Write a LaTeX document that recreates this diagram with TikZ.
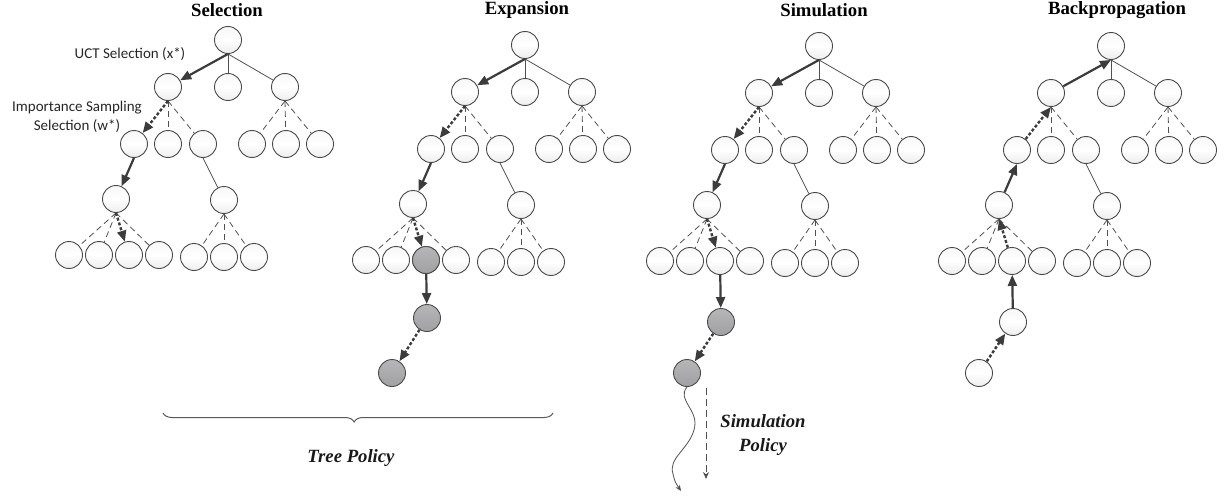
\documentclass[tikz,border=0pt]{standalone}
\usepackage{fontspec}
\setmainfont{Liberation Serif}
\newfontfamily\labfont{Carlito}
\usetikzlibrary{arrows.meta,decorations.pathreplacing,decorations.pathmorphing}
\definecolor{edgec}{HTML}{505050}
\definecolor{arrc}{HTML}{3C3C3C}
\definecolor{nodeb}{HTML}{4A4A4A}
\definecolor{grayfill}{HTML}{A9A9AB}
\tikzset{
  tnode/.style={circle, minimum size=27pt, inner sep=0pt, draw=nodeb, line width=0.9pt,
    top color=gray!6, bottom color=gray!14, middle color=white},
  gnode/.style={circle, minimum size=27pt, inner sep=0pt, draw=nodeb, line width=0.9pt,
    top color=grayfill!85!white, bottom color=grayfill!95!black},
  thinedge/.style={draw=edgec, line width=0.8pt},
  dashedge/.style={draw=edgec, line width=0.8pt, dash pattern=on 6pt off 4pt},
  thickarrow/.style={draw=arrc, line width=2.2pt, -{Triangle[length=11pt,width=9pt]}},
  dotarrow/.style={draw=arrc, line width=2.4pt, dash pattern=on 3pt off 2pt, -{Triangle[length=11pt,width=9pt]}},
  title/.style={font=\fontsize{18.7}{22}\selectfont\bfseries, text=black},
  policy/.style={font=\fontsize{18.7}{24}\selectfont\bfseries\itshape, text=black!90, align=center},
  lab/.style={font=\fontsize{15}{19}\selectfont\labfont, text=black!85, align=center},
}
\newcommand\mctsTree[3]{%
  \begin{scope}[shift={(#2,#3)}]
    \node[tnode] (#1r) at (0,0) {};
    \node[tnode] (#1a) at (-60,47) {};
    \node[tnode] (#1b) at (0,47) {};
    \node[tnode] (#1c) at (57,47) {};
    \node[tnode] (#1aa) at (-94,104) {};
    \node[tnode] (#1ab) at (-60,104) {};
    \node[tnode] (#1ac) at (-25,104) {};
    \node[tnode] (#1ca) at (24,104) {};
    \node[tnode] (#1cb) at (58,104) {};
    \node[tnode] (#1cc) at (92,104) {};
    \node[tnode] (#1aaa) at (-112,159) {};
    \node[tnode] (#1aca) at (-4,160) {};
    \node[tnode] (#1aaa1) at (-159,215) {};
    \node[tnode] (#1aaa2) at (-129,215) {};
    \node[tnode] (#1aaa3) at (-99,215) {};
    \node[tnode] (#1aaa4) at (-69,215) {};
    \node[tnode] (#1aca1) at (-34,217) {};
    \node[tnode] (#1aca2) at (-4,217) {};
    \node[tnode] (#1aca3) at (26,217) {};
  \end{scope}
  \draw[thinedge] (#1r.south) -- (#1b);
  \draw[thinedge] (#1r.south) -- (#1c);
  \draw[dashedge] (#1a.south) -- (#1ab);
  \draw[dashedge] (#1a.south) -- (#1ac);
  \draw[dashedge] (#1c.south) -- (#1ca);
  \draw[dashedge] (#1c.south) -- (#1cb);
  \draw[dashedge] (#1c.south) -- (#1cc);
  \draw[thinedge] (#1ac.south) -- (#1aca);
  \draw[dashedge] (#1aaa.south) -- (#1aaa1);
  \draw[dashedge] (#1aaa.south) -- (#1aaa2);
  \draw[dashedge] (#1aaa.south) -- (#1aaa4);
  \draw[dashedge] (#1aca.south) -- (#1aca1);
  \draw[dashedge] (#1aca.south) -- (#1aca2);
  \draw[dashedge] (#1aca.south) -- (#1aca3);
}
\newcommand\forwardPath[1]{%
  \draw[thickarrow] (#1r.south) -- (#1a);
  \draw[dotarrow] (#1a.south) -- (#1aa);
  \draw[thickarrow] (#1aa.south) -- (#1aaa);
  \draw[dotarrow] (#1aaa.south) -- (#1aaa3);
}
\begin{document}
\begin{tikzpicture}[x=1pt,y=-1pt]
\useasboundingbox (0,0) rectangle (1225,495);
% titles
\node[title] (t1) at (227,10) {Selection};
\node[title] (t2) at (527,10) {Expansion};
\node[title] (t3) at (824,10) {Simulation};
\node[title] (t4) at (1117,10) {Backpropagation};
% Selection
\mctsTree{S}{228}{40}
\forwardPath{S}
\node[lab] (uct) at (130,54) {UCT Selection (x*)};
\node[lab] (isl) at (77,117) {Importance Sampling\\Selection (w*)};
% Expansion
\mctsTree{E}{525}{45}
\forwardPath{E}
\node[gnode] at (Eaaa3) {};
\node[gnode] (E1) at (427,318) {};
\node[gnode] (E2) at (392,373) {};
\draw[thickarrow] (Eaaa3) -- (E1);
\draw[dotarrow] (E1) -- (E2);
% Simulation
\mctsTree{M}{819}{46}
\forwardPath{M}
\node[gnode] (M1) at (721,322) {};
\node[gnode] (M2) at (687,373) {};
\draw[thickarrow] (Maaa3) -- (M1);
\draw[dotarrow] (M1) -- (M2);
\coordinate (wend) at (681,491);
\draw[edgec, line width=0.8pt, -{Stealth[length=6pt,width=5pt]}] (M2.south) .. controls (676,400) and (700,410) .. (694,430) .. controls (688,450) and (668,458) .. (673,474) .. controls (675,482) .. (wend);
\coordinate (dtop) at (706,388);
\coordinate (dbot) at (706,479);
\draw[edgec, line width=0.8pt, dash pattern=on 7pt off 4pt, -{Stealth[length=7pt,width=6pt]}] (dtop) -- (dbot);
\node[policy] (sp) at (763,435) {Simulation\\Policy};
% Backpropagation
\mctsTree{B}{1111}{46}
\draw[thickarrow] (Ba) -- (Br.south);
\draw[dotarrow] (Baa) -- (Ba.south);
\draw[thickarrow] (Baaa) -- (Baa.south);
\draw[dotarrow] (Baaa3) -- (Baaa.south);
\node[tnode] (B1) at (1013,322) {};
\node[tnode] (B2) at (979,373) {};
\draw[thickarrow] (B1) -- (Baaa3);
\draw[dotarrow] (B2) -- (B1);
% Tree policy brace
\coordinate (bl) at (163,413);
\coordinate (br) at (553,413);
\draw[gray!70!black, line width=1pt, decorate, decoration={brace, mirror, amplitude=9pt, aspect=0.49}] (bl) -- (br);
\node[policy] (tp) at (351,458) {Tree Policy};
\end{tikzpicture}
\end{document}
